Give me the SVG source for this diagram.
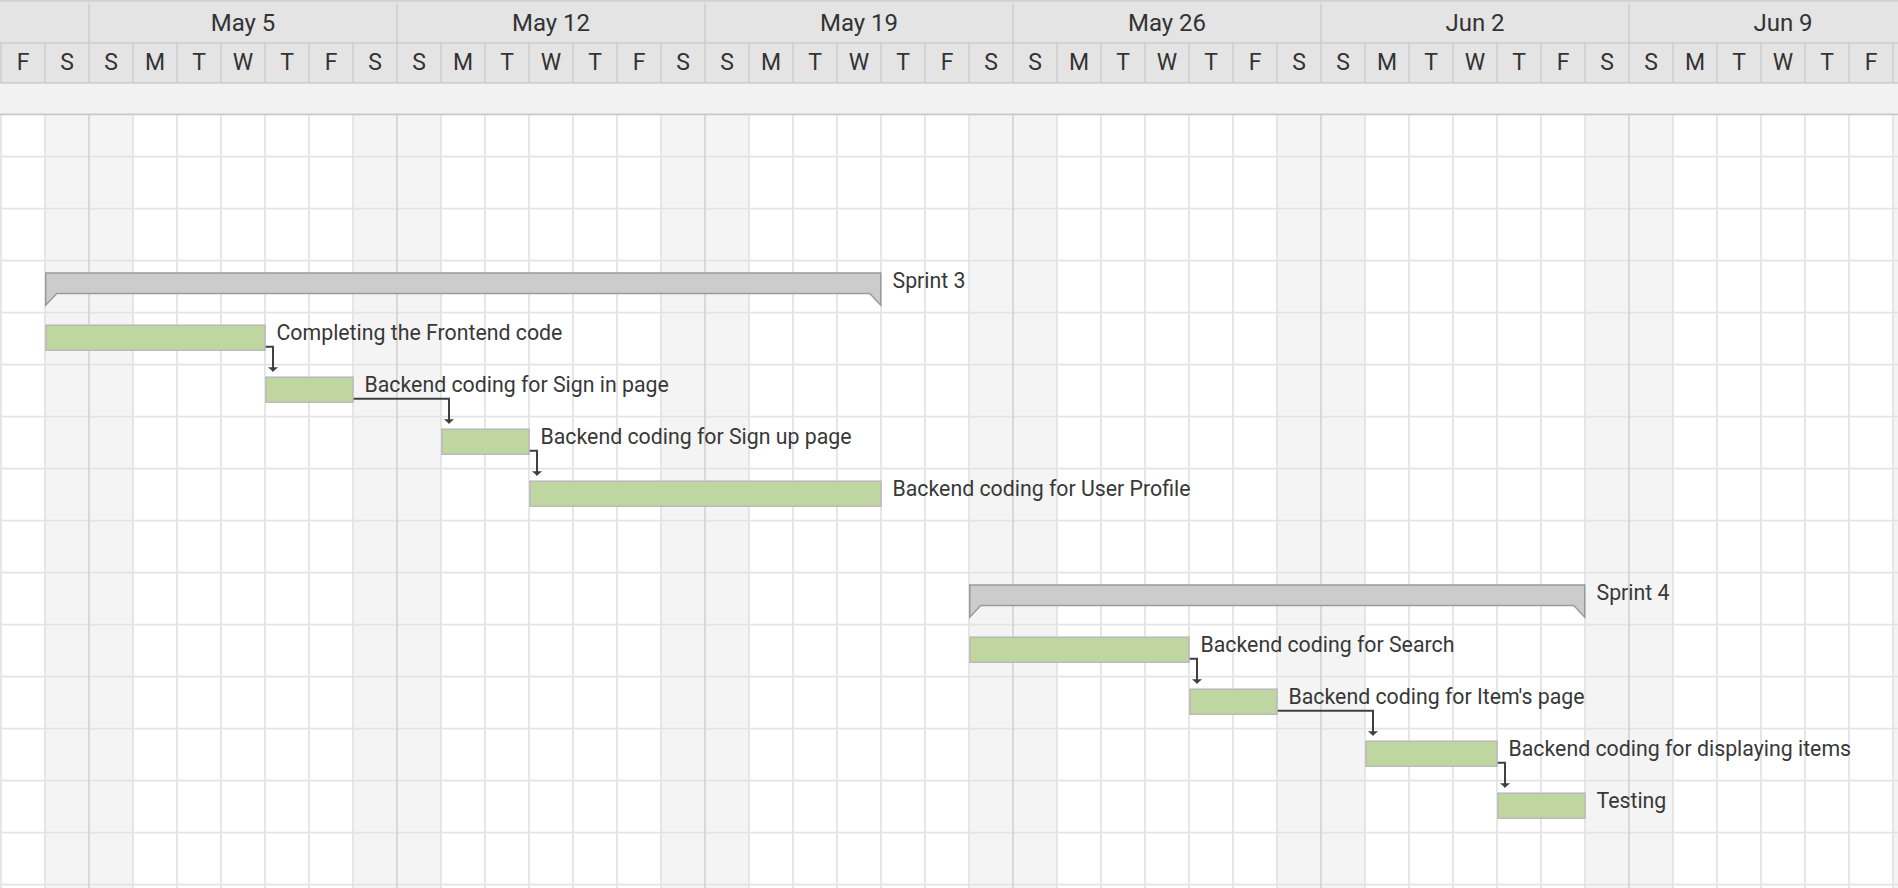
<svg xmlns="http://www.w3.org/2000/svg" width="1898" height="888" viewBox="0 0 1898 888">
  <defs>
    <style>
      .hdr { fill: #e4e4e4; }
      .hline { stroke: #d0d0d0; stroke-width: 1.7; fill: none; }
      .band { fill: #f2f2f2; }
      .wkend { fill: #f4f4f4; }
      .grid { stroke: #e4e4e4; stroke-width: 1.8; fill: none; }
      .wkline { stroke: #d6d6d6; stroke-width: 1.8; fill: none; }
      .month { font-family: Roboto, "Liberation Sans", sans-serif; font-size: 24px; fill: #333333; text-anchor: middle; }
      .day { font-family: Roboto, "Liberation Sans", sans-serif; font-size: 23px; fill: #333333; text-anchor: middle; }
      .task { fill: #c0d6a0; stroke: #b8b8b8; stroke-width: 1.5; }
      .sprint { fill: #cccccc; stroke: #9a9a9a; stroke-width: 1.5; stroke-linejoin: miter; }
      .label { font-family: Roboto, "Liberation Sans", sans-serif; font-size: 21.3px; fill: #383838; }
      .link { stroke: #404040; stroke-width: 2; fill: none; marker-end: url(#arrow); }
    </style>
    <marker id="arrow" markerUnits="userSpaceOnUse" markerWidth="10" markerHeight="12" viewBox="-1 -6 6 12" refX="4" refY="0" orient="auto">
      <path d="M0,-5 L4.5,0 L0,5 Z" fill="#404040"/>
    </marker>
  </defs>

  <rect width="1898" height="888" fill="#ffffff"/>

  <!-- body: weekend columns -->
  <g id="weekends">
    <rect class="wkend" x="45" y="115" width="88" height="773"/>
    <rect class="wkend" x="353" y="115" width="88" height="773"/>
    <rect class="wkend" x="661" y="115" width="88" height="773"/>
    <rect class="wkend" x="969" y="115" width="88" height="773"/>
    <rect class="wkend" x="1277" y="115" width="88" height="773"/>
    <rect class="wkend" x="1585" y="115" width="88" height="773"/>
    <rect class="wkend" x="1893" y="115" width="5" height="773"/>
  </g>

  <!-- body: grid lines -->
  <g id="grid">
    <path class="grid" d="M0,156.7H1898M0,208.7H1898M0,260.7H1898M0,312.7H1898M0,364.7H1898M0,416.7H1898M0,468.7H1898M0,520.7H1898M0,572.7H1898M0,624.7H1898M0,676.7H1898M0,728.7H1898M0,780.7H1898M0,832.7H1898M0,884.7H1898"/>
    <path class="grid" d="M1,115V888M45,115V888M133,115V888M177,115V888M221,115V888M265,115V888M309,115V888M353,115V888M441,115V888M485,115V888M529,115V888M573,115V888M617,115V888M661,115V888M749,115V888M793,115V888M837,115V888M881,115V888M925,115V888M969,115V888M1057,115V888M1101,115V888M1145,115V888M1189,115V888M1233,115V888M1277,115V888M1365,115V888M1409,115V888M1453,115V888M1497,115V888M1541,115V888M1585,115V888M1673,115V888M1717,115V888M1761,115V888M1805,115V888M1849,115V888M1893,115V888"/>
    <path class="wkline" d="M89,115V888M397,115V888M705,115V888M1013,115V888M1321,115V888M1629,115V888"/>
  </g>

  <!-- header -->
  <g id="header">
    <rect class="hdr" x="0" y="0" width="1898" height="83"/>
    <rect class="band" x="0" y="83" width="1898" height="32"/>
    <path class="hline" d="M0,0.8H1898M0,42.8H1898M0,82.9H1898"/>
    <path d="M0,114.4H1898" stroke="#c8c8c8" stroke-width="1.7"/>
    <path class="hline" d="M89,4V43M397,4V43M705,4V43M1013,4V43M1321,4V43M1629,4V43"/>
    <path class="hline" d="M1,43V83M45,43V83M89,43V83M133,43V83M177,43V83M221,43V83M265,43V83M309,43V83M353,43V83M397,43V83M441,43V83M485,43V83M529,43V83M573,43V83M617,43V83M661,43V83M705,43V83M749,43V83M793,43V83M837,43V83M881,43V83M925,43V83M969,43V83M1013,43V83M1057,43V83M1101,43V83M1145,43V83M1189,43V83M1233,43V83M1277,43V83M1321,43V83M1365,43V83M1409,43V83M1453,43V83M1497,43V83M1541,43V83M1585,43V83M1629,43V83M1673,43V83M1717,43V83M1761,43V83M1805,43V83M1849,43V83M1893,43V83"/>
    <text class="month" x="243" y="30.5">May 5</text>
    <text class="month" x="551" y="30.5">May 12</text>
    <text class="month" x="859" y="30.5">May 19</text>
    <text class="month" x="1167" y="30.5">May 26</text>
    <text class="month" x="1475" y="30.5">Jun 2</text>
    <text class="month" x="1783" y="30.5">Jun 9</text>
    <g class="day">
      <text x="23" y="70">F</text><text x="67" y="70">S</text>
      <text x="111" y="70">S</text><text x="155" y="70">M</text><text x="199" y="70">T</text><text x="243" y="70">W</text><text x="287" y="70">T</text><text x="331" y="70">F</text><text x="375" y="70">S</text>
      <text x="419" y="70">S</text><text x="463" y="70">M</text><text x="507" y="70">T</text><text x="551" y="70">W</text><text x="595" y="70">T</text><text x="639" y="70">F</text><text x="683" y="70">S</text>
      <text x="727" y="70">S</text><text x="771" y="70">M</text><text x="815" y="70">T</text><text x="859" y="70">W</text><text x="903" y="70">T</text><text x="947" y="70">F</text><text x="991" y="70">S</text>
      <text x="1035" y="70">S</text><text x="1079" y="70">M</text><text x="1123" y="70">T</text><text x="1167" y="70">W</text><text x="1211" y="70">T</text><text x="1255" y="70">F</text><text x="1299" y="70">S</text>
      <text x="1343" y="70">S</text><text x="1387" y="70">M</text><text x="1431" y="70">T</text><text x="1475" y="70">W</text><text x="1519" y="70">T</text><text x="1563" y="70">F</text><text x="1607" y="70">S</text>
      <text x="1651" y="70">S</text><text x="1695" y="70">M</text><text x="1739" y="70">T</text><text x="1783" y="70">W</text><text x="1827" y="70">T</text><text x="1871" y="70">F</text>
    </g>
  </g>

  <!-- dependency links -->
  <g id="connectors">
    <path class="link" d="M265,346.7H273V371.2"/>
    <path class="link" d="M353,398.7H449V423.2"/>
    <path class="link" d="M529,450.7H537V475.2"/>
    <path class="link" d="M1189,658.7H1197V683.2"/>
    <path class="link" d="M1277,710.7H1373V735.2"/>
    <path class="link" d="M1497,762.7H1505V787.2"/>
  </g>

  <!-- Sprint 3 -->
  <g id="sprint-3">
    <path class="sprint" d="M45.75,272.9H880.75V305.2L869.75,293.5H56.75L45.75,305.2Z"/>
    <text class="label" x="892.5" y="288.2">Sprint 3</text>
  </g>
  <g id="task-frontend">
    <rect class="task" x="46" y="325.2" width="219" height="25"/>
    <text class="label" x="276.5" y="340.2">Completing the Frontend code</text>
  </g>
  <g id="task-signin">
    <rect class="task" x="266" y="377.2" width="87" height="25"/>
    <text class="label" x="364.5" y="392.2">Backend coding for Sign in page</text>
  </g>
  <g id="task-signup">
    <rect class="task" x="442" y="429.2" width="87" height="25"/>
    <text class="label" x="540.5" y="444.2">Backend coding for Sign up page</text>
  </g>
  <g id="task-profile">
    <rect class="task" x="530" y="481.2" width="351" height="25"/>
    <text class="label" x="892.5" y="496.2">Backend coding for User Profile</text>
  </g>

  <!-- Sprint 4 -->
  <g id="sprint-4">
    <path class="sprint" d="M969.75,584.9H1584.75V617.2L1573.75,605.5H980.75L969.75,617.2Z"/>
    <text class="label" x="1596.5" y="600.2">Sprint 4</text>
  </g>
  <g id="task-search">
    <rect class="task" x="970" y="637.2" width="219" height="25"/>
    <text class="label" x="1200.5" y="652.2">Backend coding for Search</text>
  </g>
  <g id="task-item">
    <rect class="task" x="1190" y="689.2" width="87" height="25"/>
    <text class="label" x="1288.5" y="704.2">Backend coding for Item's page</text>
  </g>
  <g id="task-display">
    <rect class="task" x="1366" y="741.2" width="131" height="25"/>
    <text class="label" x="1508.5" y="756.2">Backend coding for displaying items</text>
  </g>
  <g id="task-testing">
    <rect class="task" x="1498" y="793.2" width="87" height="25"/>
    <text class="label" x="1596.5" y="808.2">Testing</text>
  </g>
</svg>
